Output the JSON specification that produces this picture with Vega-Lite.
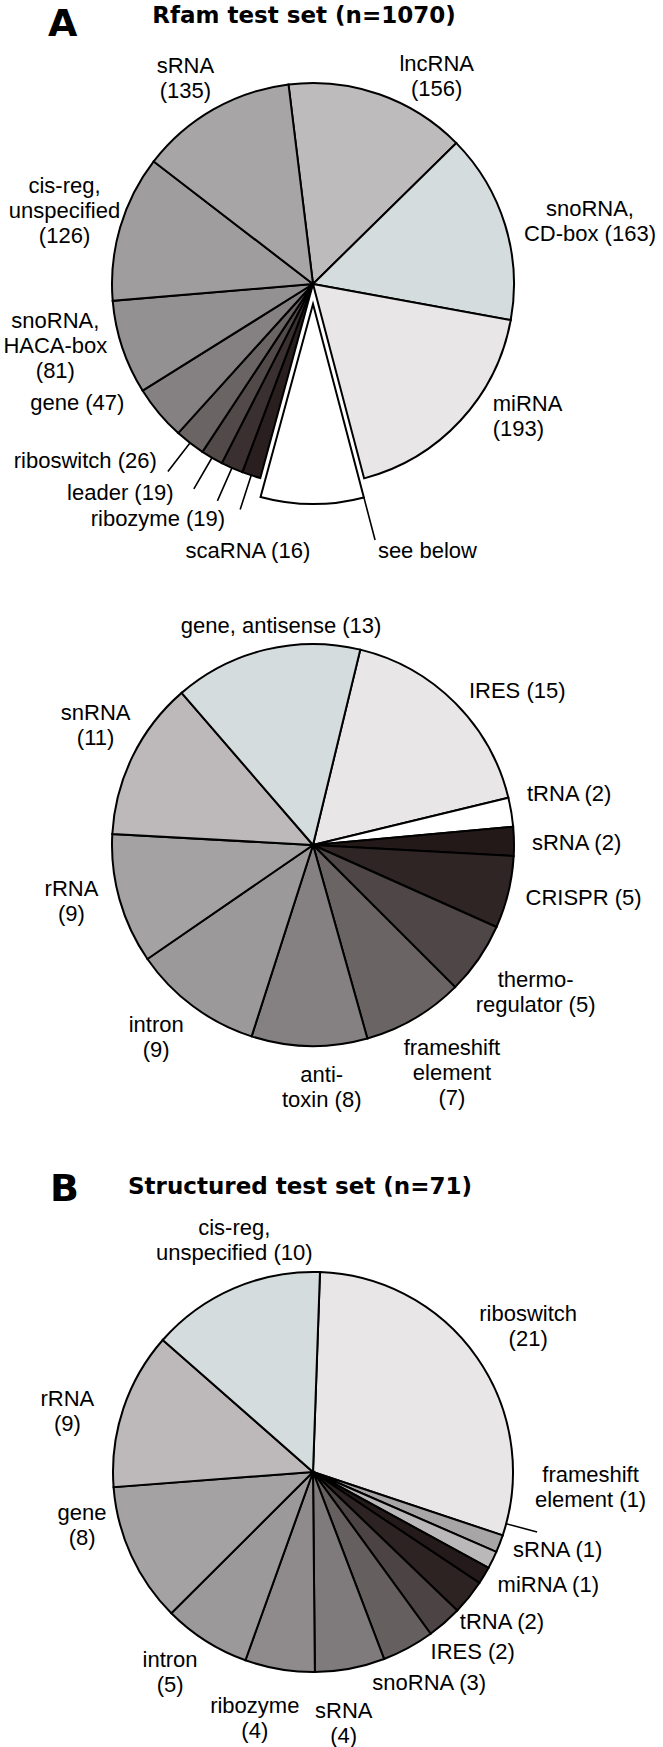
{
  "$schema": "https://vega.github.io/schema/vega-lite/v6.json",
  "padding": 0,
  "autosize": {"type": "pad"},
  "config": {
    "view": {"stroke": null},
    "font": "Liberation Sans",
    "text": {"font": "Liberation Sans", "fontSize": 22, "lineHeight": 25, "baseline": "middle", "color": "black", "lineBreak": "\n"},
    "title": {"font": "DejaVu Sans", "fontWeight": "bold", "fontSize": 23, "color": "black"}
  },
  "spacing": 46,
  "resolve": {"scale": {"color": "independent", "theta": "independent"}},
  "vconcat": [
    {
      "title": {"text": "A", "anchor": "start", "frame": "group", "align": "left", "offset": -44, "dx": 48, "fontSize": 38},
      "bounds": "flush",
      "spacing": 0,
      "resolve": {"scale": {"color": "independent", "theta": "independent"}},
      "vconcat": [
        {
          "width": 626,
          "height": 564,
          "title": {"text": "Rfam test set (n=1070)", "anchor": "middle", "frame": "group", "offset": -28, "dx": -9},
          "data": {"values": [
            {"k": 1, "key": "lnc", "label": "lncRNA", "n": 156, "text": "lncRNA\n(156)"},
            {"k": 2, "key": "cd", "label": "snoRNA, CD-box", "n": 163, "text": "snoRNA,\nCD-box (163)"},
            {"k": 3, "key": "mi", "label": "miRNA", "n": 193, "text": "miRNA\n(193)"},
            {"k": 4, "key": "below", "label": "see below", "n": 89, "text": "see below"},
            {"k": 5, "key": "sca", "label": "scaRNA", "n": 16, "text": "scaRNA (16)"},
            {"k": 6, "key": "riboz", "label": "ribozyme", "n": 19, "text": "ribozyme (19)"},
            {"k": 7, "key": "leader", "label": "leader", "n": 19, "text": "leader (19)"},
            {"k": 8, "key": "ribos", "label": "riboswitch", "n": 26, "text": "riboswitch (26)"},
            {"k": 9, "key": "gene", "label": "gene", "n": 47, "text": "gene (47)"},
            {"k": 10, "key": "haca", "label": "snoRNA, HACA-box", "n": 81, "text": "snoRNA,\nHACA-box\n(81)"},
            {"k": 11, "key": "cis", "label": "cis-reg, unspecified", "n": 126, "text": "cis-reg,\nunspecified\n(126)"},
            {"k": 12, "key": "srna", "label": "sRNA", "n": 135, "text": "sRNA\n(135)"}
          ]},
          "encoding": {
            "theta": {"field": "n", "type": "quantitative", "stack": true, "scale": {"range": [-0.1222, 6.1610]}},
            "order": {"field": "k", "type": "quantitative"}
          },
          "layer": [
            {"mark": {"type": "arc", "outerRadius": 201, "stroke": "black", "strokeWidth": 2},
             "encoding": {
               "color": {"field": "key", "type": "nominal", "legend": null,
                 "scale": {"domain": ["lnc","cd","mi","below","sca","riboz","leader","ribos","gene","haca","cis","srna"],
                           "range": ["#bebbbc","#d5dcdd","#e8e6e7","#ffffff","#2a1f1f","#3b3030","#524949","#6b6465","#858182","#949192","#a09d9e","#a8a5a6"]}},
               "opacity": {"condition": {"test": "datum.key == 'below'", "value": 0}, "value": 1}}},
            {"mark": {"type": "arc", "outerRadius": 200, "yOffset": 20, "stroke": "black", "strokeWidth": 2},
             "encoding": {
               "color": {"field": "key", "type": "nominal", "legend": null},
               "opacity": {"condition": {"test": "datum.key == 'below'", "value": 1}, "value": 0}}},
            {"mark": {"type": "arc", "innerRadius": 201, "outerRadius": 237, "padAngle": 3, "fillOpacity": 0, "stroke": "black", "strokeWidth": 1.6},
             "encoding": {"opacity": {"condition": {"test": "indexof(['sca','riboz','leader','ribos'], datum.key) >= 0", "value": 1}, "value": 0}}},
            {"mark": {"type": "arc", "innerRadius": 200, "outerRadius": 244, "yOffset": 20, "thetaOffset": -0.2613, "padAngle": 3, "fillOpacity": 0, "stroke": "black", "strokeWidth": 1.6},
             "encoding": {"opacity": {"condition": {"test": "datum.key == 'below'", "value": 1}, "value": 0}}},
            {"mark": {"type": "text", "radius": 242, "thetaOffset": -0.0367, "align": "center", "dy": -12.5},
             "encoding": {"text": {"condition": {"test": "datum.key == 'srna'", "field": "text"}, "value": ""}}},
            {"mark": {"type": "text", "radius": 242, "thetaOffset": 0.2007, "align": "center", "dy": -12.5},
             "encoding": {"text": {"condition": {"test": "datum.key == 'lnc'", "field": "text"}, "value": ""}}},
            {"mark": {"type": "text", "radius": 284, "thetaOffset": 0.0750, "align": "center", "dy": -12.5},
             "encoding": {"text": {"condition": {"test": "datum.key == 'cd'", "field": "text"}, "value": ""}}},
            {"mark": {"type": "text", "radius": 223, "thetaOffset": -0.1134, "align": "left", "dy": -12.5},
             "encoding": {"text": {"condition": {"test": "datum.key == 'mi'", "field": "text"}, "value": ""}}},
            {"mark": {"type": "text", "radius": 259, "align": "center", "dy": -25},
             "encoding": {"text": {"condition": {"test": "datum.key == 'cis'", "field": "text"}, "value": ""}}},
            {"mark": {"type": "text", "radius": 265, "thetaOffset": 0.0855, "align": "center", "dy": -25},
             "encoding": {"text": {"condition": {"test": "datum.key == 'haca'", "field": "text"}, "value": ""}}},
            {"mark": {"type": "text", "radius": 264, "thetaOffset": 0.2304, "align": "center"},
             "encoding": {"text": {"condition": {"test": "datum.key == 'gene'", "field": "text"}, "value": ""}}},
            {"mark": {"type": "text", "radius": 236, "thetaOffset": 0.0646, "align": "right"},
             "encoding": {"text": {"condition": {"test": "datum.key == 'ribos'", "field": "text"}, "value": ""}}},
            {"mark": {"type": "text", "radius": 251, "thetaOffset": 0.0628, "align": "right"},
             "encoding": {"text": {"condition": {"test": "datum.key == 'leader'", "field": "text"}, "value": ""}}},
            {"mark": {"type": "text", "radius": 251, "thetaOffset": -0.0576, "align": "right"},
             "encoding": {"text": {"condition": {"test": "datum.key == 'riboz'", "field": "text"}, "value": ""}}},
            {"mark": {"type": "text", "radius": 275, "thetaOffset": -0.0733, "align": "center"},
             "encoding": {"text": {"condition": {"test": "datum.key == 'sca'", "field": "text"}, "value": ""}}},
            {"mark": {"type": "text", "radius": 255, "yOffset": 20, "align": "left"},
             "encoding": {
               "theta": {"field": "n", "type": "quantitative", "stack": true, "bandPosition": 0},
               "text": {"condition": {"test": "datum.key == 'below'", "field": "text"}, "value": ""}}}
          ]
        },
        {
          "width": 626,
          "height": 558,
          "data": {"values": [
            {"k": 1, "key": "ires", "label": "IRES", "n": 15, "text": "IRES (15)"},
            {"k": 2, "key": "trna", "label": "tRNA", "n": 2, "text": "tRNA (2)"},
            {"k": 3, "key": "srna", "label": "sRNA", "n": 2, "text": "sRNA (2)"},
            {"k": 4, "key": "crispr", "label": "CRISPR", "n": 5, "text": "CRISPR (5)"},
            {"k": 5, "key": "thermo", "label": "thermoregulator", "n": 5, "text": "thermo-\nregulator (5)"},
            {"k": 6, "key": "frame", "label": "frameshift element", "n": 7, "text": "frameshift\nelement\n(7)"},
            {"k": 7, "key": "anti", "label": "antitoxin", "n": 8, "text": "anti-\ntoxin (8)"},
            {"k": 8, "key": "intron", "label": "intron", "n": 9, "text": "intron\n(9)"},
            {"k": 9, "key": "rrna", "label": "rRNA", "n": 9, "text": "rRNA\n(9)"},
            {"k": 10, "key": "snrna", "label": "snRNA", "n": 11, "text": "snRNA\n(11)"},
            {"k": 11, "key": "gas", "label": "gene, antisense", "n": 13, "text": "gene, antisense (13)"}
          ]},
          "encoding": {
            "theta": {"field": "n", "type": "quantitative", "stack": true, "scale": {"range": [0.2374, 6.5206]}},
            "order": {"field": "k", "type": "quantitative"}
          },
          "layer": [
            {"mark": {"type": "arc", "outerRadius": 201, "stroke": "black", "strokeWidth": 2},
             "encoding": {
               "color": {"field": "key", "type": "nominal", "legend": null,
                 "scale": {"domain": ["ires","trna","srna","crispr","thermo","frame","anti","intron","rrna","snrna","gas"],
                           "range": ["#e8e6e7","#ffffff","#231919","#2f2525","#4e4647","#6a6465","#858182","#9c999a","#a5a2a3","#bdb9ba","#d5dcdd"]}}}},
            {"mark": {"type": "text", "radius": 221, "thetaOffset": 0.0925, "align": "center"},
             "encoding": {"text": {"condition": {"test": "datum.key == 'gas'", "field": "text"}, "value": ""}}},
            {"mark": {"type": "text", "radius": 219, "thetaOffset": 0.007, "align": "left"},
             "encoding": {"text": {"condition": {"test": "indexof(['ires','srna','crispr'], datum.key) >= 0", "field": "text"}, "value": ""}}},
            {"mark": {"type": "text", "radius": 220, "thetaOffset": -0.0698, "align": "left"},
             "encoding": {"text": {"condition": {"test": "datum.key == 'trna'", "field": "text"}, "value": ""}}},
            {"mark": {"type": "text", "radius": 267, "thetaOffset": -0.0175, "align": "center", "dy": -12.5},
             "encoding": {"text": {"condition": {"test": "datum.key == 'thermo'", "field": "text"}, "value": ""}}},
            {"mark": {"type": "text", "radius": 267, "thetaOffset": -0.0175, "align": "center", "dy": -25},
             "encoding": {"text": {"condition": {"test": "datum.key == 'frame'", "field": "text"}, "value": ""}}},
            {"mark": {"type": "text", "radius": 243, "thetaOffset": -0.0541, "align": "center", "dy": -12.5},
             "encoding": {"text": {"condition": {"test": "datum.key == 'anti'", "field": "text"}, "value": ""}}},
            {"mark": {"type": "text", "radius": 248, "thetaOffset": 0.0454, "align": "center", "dy": -12.5},
             "encoding": {"text": {"condition": {"test": "indexof(['intron','rrna','snrna'], datum.key) >= 0", "field": "text"}, "value": ""}}}
          ]
        }
      ]
    },
    {
      "title": {"text": "B", "anchor": "start", "frame": "group", "align": "left", "offset": -33, "dx": 50, "fontSize": 38},
      "bounds": "flush",
      "resolve": {"scale": {"color": "independent", "theta": "independent"}},
      "vconcat": [
        {
          "width": 626,
          "height": 526,
          "title": {"text": "Structured test set (n=71)", "anchor": "middle", "frame": "group", "offset": 10, "dx": -13},
          "data": {"values": [
            {"k": 1, "key": "ribos", "label": "riboswitch", "n": 21, "text": "riboswitch\n(21)"},
            {"k": 2, "key": "frame", "label": "frameshift element", "n": 1, "text": "frameshift\nelement (1)"},
            {"k": 3, "key": "srna1", "label": "sRNA", "n": 1, "text": "sRNA (1)"},
            {"k": 4, "key": "mirna", "label": "miRNA", "n": 1, "text": "miRNA (1)"},
            {"k": 5, "key": "trna", "label": "tRNA", "n": 2, "text": "tRNA (2)"},
            {"k": 6, "key": "ires", "label": "IRES", "n": 2, "text": "IRES (2)"},
            {"k": 7, "key": "sno", "label": "snoRNA", "n": 3, "text": "snoRNA (3)"},
            {"k": 8, "key": "srna4", "label": "sRNA", "n": 4, "text": "sRNA\n(4)"},
            {"k": 9, "key": "riboz", "label": "ribozyme", "n": 4, "text": "ribozyme\n(4)"},
            {"k": 10, "key": "intron", "label": "intron", "n": 5, "text": "intron\n(5)"},
            {"k": 11, "key": "gene", "label": "gene", "n": 8, "text": "gene\n(8)"},
            {"k": 12, "key": "rrna", "label": "rRNA", "n": 9, "text": "rRNA\n(9)"},
            {"k": 13, "key": "cis", "label": "cis-reg, unspecified", "n": 10, "text": "cis-reg,\nunspecified (10)"}
          ]},
          "encoding": {
            "theta": {"field": "n", "type": "quantitative", "stack": true, "scale": {"range": [0.0349, 6.3181]}},
            "order": {"field": "k", "type": "quantitative"}
          },
          "layer": [
            {"mark": {"type": "arc", "outerRadius": 200, "stroke": "black", "strokeWidth": 2},
             "encoding": {
               "color": {"field": "key", "type": "nominal", "legend": null,
                 "scale": {"domain": ["ribos","frame","srna1","mirna","trna","ires","sno","srna4","riboz","intron","gene","rrna","cis"],
                           "range": ["#e8e6e7","#a8a5a6","#bbb8b9","#241a1a","#2e2323","#4b4344","#665f60","#7f7a7b","#8f8b8c","#9c999a","#a5a2a3","#bdb9ba","#d5dcdd"]}}}},
            {"mark": {"type": "arc", "innerRadius": 200, "outerRadius": 232, "padAngle": 3, "thetaOffset": -0.105, "fillOpacity": 0, "stroke": "black", "strokeWidth": 1.6},
             "encoding": {"opacity": {"condition": {"test": "datum.key == 'frame'", "value": 1}, "value": 0}}},
            {"mark": {"type": "text", "radius": 245, "thetaOffset": 0.0803, "align": "center", "dy": -12.5},
             "encoding": {"text": {"condition": {"test": "datum.key == 'cis'", "field": "text"}, "value": ""}}},
            {"mark": {"type": "text", "radius": 260, "thetaOffset": 0.0105, "align": "center", "dy": -12.5},
             "encoding": {"text": {"condition": {"test": "datum.key == 'ribos'", "field": "text"}, "value": ""}}},
            {"mark": {"type": "text", "radius": 253, "thetaOffset": -0.0803, "align": "center", "dy": -12.5},
             "encoding": {"text": {"condition": {"test": "datum.key == 'rrna'", "field": "text"}, "value": ""}}},
            {"mark": {"type": "text", "radius": 237, "thetaOffset": 0.2025, "align": "center", "dy": -12.5},
             "encoding": {"text": {"condition": {"test": "datum.key == 'gene'", "field": "text"}, "value": ""}}},
            {"mark": {"type": "text", "radius": 246, "thetaOffset": 0.0541, "align": "center", "dy": -12.5},
             "encoding": {"text": {"condition": {"test": "datum.key == 'intron'", "field": "text"}, "value": ""}}},
            {"mark": {"type": "text", "radius": 253, "thetaOffset": 0.0646, "align": "center", "dy": -12.5},
             "encoding": {"text": {"condition": {"test": "indexof(['riboz','srna4'], datum.key) >= 0", "field": "text"}, "value": ""}}},
            {"mark": {"type": "text", "radius": 241, "thetaOffset": -0.007, "align": "center"},
             "encoding": {"text": {"condition": {"test": "indexof(['sno','ires','trna'], datum.key) >= 0", "field": "text"}, "value": ""}}},
            {"mark": {"type": "text", "radius": 261, "thetaOffset": -0.096, "align": "center"},
             "encoding": {"text": {"condition": {"test": "datum.key == 'mirna'", "field": "text"}, "value": ""}}},
            {"mark": {"type": "text", "radius": 257, "thetaOffset": -0.1449, "align": "center"},
             "encoding": {"text": {"condition": {"test": "datum.key == 'srna1'", "field": "text"}, "value": ""}}},
            {"mark": {"type": "text", "radius": 278, "thetaOffset": -0.3107, "align": "center", "dy": -12.5},
             "encoding": {"text": {"condition": {"test": "datum.key == 'frame'", "field": "text"}, "value": ""}}}
          ]
        }
      ]
    }
  ]
}
